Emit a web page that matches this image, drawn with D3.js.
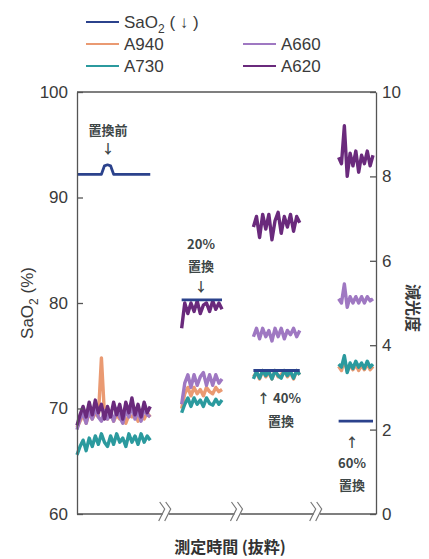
<!DOCTYPE html>
<html>
<head>
<meta charset="utf-8">
<script src="https://cdn.jsdelivr.net/npm/d3@7"></script>
<style>
  body { margin: 0; background: #fff; }
  svg { font-family: "Liberation Sans", Arial, sans-serif; }
</style>
</head>
<body>
<div id="chart"></div>
<script>
// time axis is cut into 4 excerpts (before, 20%, 40%, 60% replacement)
const segStart = [0, 35, 59, 87.5];
const segEnd = [24.5, 48.5, 74.5, 99];
const breaks = [30, 54, 80.5];

// SaO2 (%) - left axis
const sao2 = [
  [92.2, 92.2, 92.2, 92.2, 92.2, 92.2, 92.2, 92.2, 92.2, 93.0, 93.1, 93.0, 92.2, 92.2, 92.2, 92.2, 92.2, 92.2, 92.2, 92.2, 92.2, 92.2, 92.2, 92.2, 92.2],
  [80.3, 80.3, 80.3, 80.3, 80.3, 80.3, 80.3, 80.3, 80.3, 80.3, 80.3, 80.3, 80.3, 80.3],
  [73.6, 73.6, 73.6, 73.6, 73.6, 73.6, 73.6, 73.6, 73.6, 73.6, 73.6, 73.6, 73.6, 73.6, 73.6, 73.6],
  [68.8, 68.8, 68.8, 68.8, 68.8, 68.8, 68.8, 68.8, 68.8, 68.8, 68.8, 68.8, 68.8]
];

// absorbance (減光度) - right axis
const a620 = [
  [2.1, 2.35, 2.55, 2.3, 2.65, 2.35, 2.7, 2.4, 2.6, 2.25, 2.55, 2.3, 2.65, 2.35, 2.6, 2.25, 2.65, 2.4, 2.75, 2.35, 2.6, 2.3, 2.65, 2.4, 2.55],
  [4.4, 5.0, 4.75, 5.0, 4.8, 5.05, 4.75, 4.95, 5.0, 4.8, 5.05, 4.85, 5.0, 4.85],
  [6.8, 7.05, 6.55, 7.1, 6.75, 7.1, 6.5, 6.95, 7.15, 6.65, 7.05, 6.8, 7.1, 6.7, 7.05, 6.9],
  [8.45, 8.3, 9.2, 8.0, 8.55, 8.25, 8.6, 8.1, 8.5, 8.3, 8.6, 8.25, 8.5]
];
const a660 = [
  [2.0, 2.25, 2.4, 2.15, 2.45, 2.25, 2.5, 2.3, 2.2, 2.45, 2.25, 2.4, 2.2, 2.5, 2.3, 2.15, 2.45, 2.3, 2.55, 2.25, 2.45, 2.2, 2.5, 2.35, 2.3],
  [2.6, 3.1, 3.3, 3.0, 3.3, 3.05, 3.25, 3.35, 3.05, 3.3, 3.05, 3.3, 3.1, 3.2],
  [4.2, 4.4, 4.15, 4.4, 4.2, 4.35, 4.1, 4.4, 4.2, 4.4, 4.15, 4.35, 4.25, 4.4, 4.2, 4.35],
  [5.1, 5.0, 5.45, 4.9, 5.15, 5.0, 5.15, 5.0, 5.15, 5.0, 5.15, 5.05, 5.1]
];
const a940 = [
  [2.05, 2.2, 2.35, 2.15, 2.4, 2.25, 2.4, 2.3, 3.7, 2.35, 2.25, 2.4, 2.2, 2.35, 2.25, 2.4, 2.15, 2.35, 2.3, 2.4, 2.2, 2.35, 2.25, 2.4, 2.3],
  [2.5, 2.85, 3.0, 2.8, 3.0, 2.85, 2.95, 2.8, 3.0, 2.9, 2.85, 3.0, 2.9, 2.95],
  [3.25, 3.35, 3.2, 3.4, 3.25, 3.35, 3.2, 3.4, 3.25, 3.3, 3.4, 3.25, 3.35, 3.2, 3.4, 3.3],
  [3.5, 3.4, 3.65, 3.38, 3.52, 3.42, 3.55, 3.4, 3.52, 3.42, 3.56, 3.42, 3.5]
];
const a730 = [
  [1.4, 1.6, 1.75, 1.5, 1.8, 1.6, 1.85, 1.65, 1.9, 1.7, 1.6, 1.85, 1.65, 1.9, 1.7, 1.8, 1.6, 1.9, 1.7, 1.85, 1.65, 1.9, 1.7, 1.85, 1.75],
  [2.4, 2.6, 2.75, 2.55, 2.75, 2.6, 2.7, 2.55, 2.75, 2.62, 2.58, 2.72, 2.6, 2.7],
  [3.2, 3.38, 3.22, 3.4, 3.28, 3.38, 3.2, 3.4, 3.28, 3.22, 3.4, 3.28, 3.38, 3.22, 3.4, 3.3],
  [3.55, 3.48, 3.75, 3.35, 3.58, 3.45, 3.62, 3.48, 3.58, 3.45, 3.62, 3.48, 3.55]
];

const leftTicks = [60, 70, 80, 90, 100];
const rightTicks = [0, 2, 4, 6, 8, 10];

const colors = {
  sao2: "#2b428c",
  a940: "#ea9a72",
  a730: "#2b9a9e",
  a660: "#9f78c2",
  a620: "#6a2a7c"
};

const width = 429, height = 559;
const plot = { left: 77, right: 376, top: 92, bottom: 514 };

const svg = d3.select("#chart").append("svg")
  .attr("width", width)
  .attr("height", height);

const x = d3.scaleLinear().domain([0, 100]).range([plot.left, plot.right]);
const yL = d3.scaleLinear().domain([60, 100]).range([plot.bottom, plot.top]);
const yR = d3.scaleLinear().domain([0, 10]).range([plot.bottom, plot.top]);

function toPoints(vals, s) {
  const step = (segEnd[s] - segStart[s]) / (vals.length - 1);
  return vals.map((v, i) => ({ t: segStart[s] + i * step, v: v }));
}

const lineL = d3.line().x(d => x(d.t)).y(d => yL(d.v));
const lineR = d3.line().x(d => x(d.t)).y(d => yR(d.v));

// traces (drawing order matters for which colour shows on top)
const series = [
  { data: a940, color: colors.a940 },
  { data: a730, color: colors.a730 },
  { data: a660, color: colors.a660 },
  { data: a620, color: colors.a620 }
];
series.forEach(sr => {
  sr.data.forEach((vals, s) => {
    svg.append("path")
      .attr("d", lineR(toPoints(vals, s)))
      .attr("fill", "none")
      .attr("stroke", sr.color)
      .attr("stroke-width", 3.4)
      .attr("stroke-linejoin", "round");
  });
});
sao2.forEach((vals, s) => {
  svg.append("path")
    .attr("d", lineL(toPoints(vals, s)))
    .attr("fill", "none")
    .attr("stroke", colors.sao2)
    .attr("stroke-width", 2.8)
    .attr("stroke-linejoin", "round");
});

// frame
const axisColor = "#555";
svg.append("line")
  .attr("x1", plot.left).attr("x2", plot.right)
  .attr("y1", plot.top).attr("y2", plot.top)
  .attr("stroke", axisColor).attr("stroke-width", 1.3);

const gL = svg.append("g")
  .attr("transform", `translate(${plot.left},0)`)
  .call(d3.axisLeft(yL).tickValues(leftTicks).tickSizeInner(-6).tickSizeOuter(0).tickPadding(9));
const gR = svg.append("g")
  .attr("transform", `translate(${plot.right},0)`)
  .call(d3.axisRight(yR).tickValues(rightTicks).tickSizeInner(-6).tickSizeOuter(0).tickPadding(6));

[gL, gR].forEach(g => {
  g.select(".domain").attr("stroke", axisColor).attr("stroke-width", 1.3);
  g.selectAll(".tick line").attr("stroke", axisColor).attr("stroke-width", 1.3);
  g.selectAll(".tick text")
    .attr("fill", "#3a3a3a")
    .style("font-size", "17px")
    .style("font-family", "Liberation Sans, Arial, sans-serif");
});

// bottom axis with break marks
svg.append("line")
  .attr("x1", plot.left).attr("x2", plot.right)
  .attr("y1", plot.bottom).attr("y2", plot.bottom)
  .attr("stroke", axisColor).attr("stroke-width", 1.3);
breaks.forEach(b => {
  const bx = x(b), by = plot.bottom;
  svg.append("rect")
    .attr("x", bx - 4).attr("y", by - 2)
    .attr("width", 6).attr("height", 4)
    .attr("fill", "#fff");
  [-3, 3].forEach(dx => {
    svg.append("path")
      .attr("d", `M${bx + dx - 4},${by - 12} L${bx + dx + 1},${by - 5} L${bx + dx - 5},${by + 7}`)
      .attr("fill", "none")
      .attr("stroke", "#777")
      .attr("stroke-width", 1.2);
  });
});

// axis titles
const yTitle = svg.append("text")
  .attr("transform", `translate(33,${(plot.top + plot.bottom) / 2}) rotate(-90)`)
  .attr("text-anchor", "middle")
  .attr("fill", "#3a3a3a")
  .style("font-size", "17px");
yTitle.append("tspan").text("SaO");
yTitle.append("tspan").attr("dy", 5).style("font-size", "12px").text("2");
yTitle.append("tspan").attr("dy", -5).text(" (%)");

svg.append("text")
  .attr("transform", `translate(407,308) rotate(90)`)
  .attr("text-anchor", "middle")
  .attr("fill", "#3a3a3a")
  .style("font-family", "Noto Sans CJK JP")
  .style("font-weight", "bold")
  .style("font-size", "16px")
  .text("減光度");

svg.append("text")
  .attr("x", 230).attr("y", 553)
  .attr("text-anchor", "middle")
  .attr("fill", "#333")
  .style("font-family", "Noto Sans CJK JP")
  .style("font-weight", "bold")
  .style("font-size", "16px")
  .text("測定時間 (抜粋)");

// legend
const legendRows = [
  { key: "a940", label: "A940", lx: 86, ly: 44 },
  { key: "a730", label: "A730", lx: 86, ly: 66 },
  { key: "a660", label: "A660", lx: 243, ly: 44 },
  { key: "a620", label: "A620", lx: 243, ly: 66 }
];
svg.append("line")
  .attr("x1", 86).attr("x2", 119).attr("y1", 22).attr("y2", 22)
  .attr("stroke", colors.sao2).attr("stroke-width", 2.2);
const sLab = svg.append("text")
  .attr("x", 124).attr("y", 28)
  .attr("fill", "#3a3a3a")
  .style("font-size", "17px");
sLab.append("tspan").text("SaO");
sLab.append("tspan").attr("dy", 5).style("font-size", "12px").text("2");
sLab.append("tspan").attr("dy", -5).text(" ( ↓ )");

legendRows.forEach(r => {
  svg.append("line")
    .attr("x1", r.lx).attr("x2", r.lx + 33)
    .attr("y1", r.ly).attr("y2", r.ly)
    .attr("stroke", colors[r.key]).attr("stroke-width", 2.2);
  svg.append("text")
    .attr("x", r.lx + 38).attr("y", r.ly + 6)
    .attr("fill", "#3a3a3a")
    .style("font-size", "17px")
    .text(r.label);
});

// annotations
const notes = [
  { t: "置換前", x: 108, y: 135 },
  { t: "↓", x: 108, y: 153 },
  { t: "20%", x: 201, y: 249 },
  { t: "置換", x: 201, y: 271 },
  { t: "↓", x: 201, y: 291 },
  { t: "↑ 40%", x: 279, y: 403 },
  { t: "置換", x: 281, y: 426 },
  { t: "↑", x: 352, y: 447 },
  { t: "60%", x: 352, y: 468 },
  { t: "置換", x: 352, y: 490 }
];
svg.selectAll("text.note")
  .data(notes)
  .join("text")
    .attr("class", "note")
    .attr("x", d => d.x)
    .attr("y", d => d.y)
    .attr("text-anchor", "middle")
    .attr("fill", "#3d4646")
    .style("font-family", "Noto Sans CJK JP")
    .style("font-weight", "bold")
    .style("font-size", "13px")
    .text(d => d.t);
</script>
</body>
</html>
